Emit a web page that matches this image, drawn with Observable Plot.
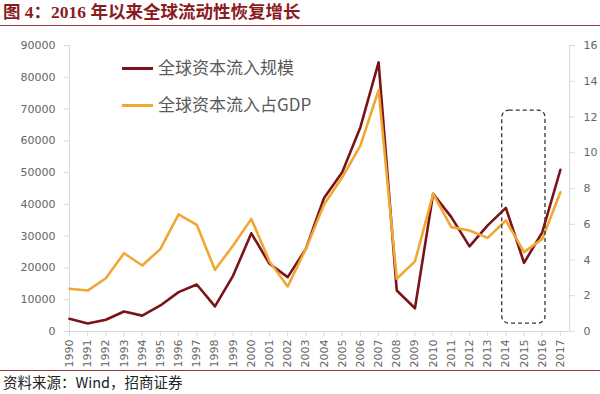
<!DOCTYPE html>
<html><head><meta charset="utf-8">
<script src="https://cdn.jsdelivr.net/npm/d3@7"></script>
<script src="https://cdn.jsdelivr.net/npm/@observablehq/plot@0.6"></script>
<style>
html,body{margin:0;padding:0;background:#fff}
#wrap{position:relative;width:600px;height:394px;overflow:hidden;background:#fff}
#title{position:absolute;left:3px;top:2px;font-family:"Liberation Serif","Noto Sans CJK SC",serif;font-weight:bold;font-size:17.5px;color:#8a1c1f;white-space:nowrap;line-height:20px}
#rule1{position:absolute;left:0;top:25px;width:600px;height:1px;background:#9a3a3a}
#chart{position:absolute;left:0;top:28px}
#rule2{position:absolute;left:0;top:370px;width:600px;height:1px;background:#9a3a3a}
#caption{position:absolute;left:3px;top:373px;font-family:"Noto Sans CJK SC",sans-serif;font-size:14.5px;color:#222;line-height:18px;white-space:nowrap}
.leg{position:absolute;font-family:"Noto Sans CJK SC",sans-serif;font-size:17px;color:#595959;white-space:nowrap;line-height:20px}
.sw{position:absolute;height:3px;width:31px}
</style></head>
<body><div id="wrap">
<div id="title">图 4：2016 年以来全球流动性恢复增长</div>
<div id="rule1"></div>
<div id="chart"></div>
<div id="rule2"></div>
<div id="caption">资料来源：Wind，招商证券</div>
</div>
<script>
const years = [1990,1991,1992,1993,1994,1995,1996,1997,1998,1999,2000,2001,2002,2003,2004,2005,2006,2007,2008,2009,2010,2011,2012,2013,2014,2015,2016,2017];
const flows = [4000,2500,3700,6300,5000,8200,12400,14800,7900,17600,30900,21300,17100,26000,42000,50100,64300,84700,12900,7300,43300,36000,26800,33400,38900,21600,31200,50900];
const gdpShare = [2.39,2.29,2.98,4.38,3.69,4.62,6.55,5.97,3.45,4.81,6.30,3.92,2.52,4.62,7.1,8.63,10.4,13.5,2.95,3.92,7.70,5.84,5.65,5.24,6.21,4.44,5.18,7.79];
const leftTicks = [0,10000,20000,30000,40000,50000,60000,70000,80000,90000];
const rightTicks = [0,2,4,6,8,10,12,14,16];
const seriesNames = ["全球资本流入规模","全球资本流入占GDP"];
const seriesColors = ["#7a1419","#f1a733"];
const box = [{x1:2013.8, x2:2016.18, y1:2500, y2:69500}];

const K = 90000/16;
const data = years.map((y,i)=>({year:y, flow:flows[i], gdp:gdpShare[i]}));

const chart = Plot.plot({
  width:600, height:342,
  marginTop:17, marginBottom:39, marginLeft:69, marginRight:31,
  x:{type:"linear", domain:[1990,2017.5]},
  y:{domain:[0,90000]},
  style:{fontFamily:"DejaVu Sans, sans-serif", fontSize:"11px", color:"#666", background:"white", overflow:"visible"},
  marks:[
    Plot.ruleY([0],{stroke:"#d9d9d9"}),
    Plot.ruleX([1990],{stroke:"#d9d9d9"}),
    Plot.ruleX([2017.5],{stroke:"#d9d9d9"}),
    Plot.axisY(leftTicks,{anchor:"left", tickSize:5, tickPadding:9, stroke:"#d9d9d9", tickFormat:d=>String(d)}),
    Plot.axisY(rightTicks.map(v=>v*K),{anchor:"right", tickSize:5, tickPadding:9, stroke:"#d9d9d9", tickFormat:d=>String(Math.round(d/K))}),
    Plot.axisX(years,{anchor:"bottom", tickSize:5, tickPadding:3, tickRotate:-90, stroke:"#d9d9d9", tickFormat:d=>String(d)}),
    Plot.line(data,{x:"year", y:"flow", stroke:seriesColors[0], strokeWidth:2.6}),
    Plot.line(data,{x:"year", y:d=>d.gdp*K, stroke:seriesColors[1], strokeWidth:2.6}),
    Plot.rect(box,{x1:"x1", x2:"x2", y1:"y1", y2:"y2", rx:7, fill:"none", stroke:"#333", strokeWidth:1.3, strokeDasharray:"4,3"})
  ]
});
document.getElementById("chart").appendChild(chart);

const wrap = document.getElementById("wrap");
seriesNames.forEach((name,i)=>{
  const cy = 68 + i*37;
  const sw = document.createElement("div");
  sw.className="sw"; sw.style.left="122px"; sw.style.top=(cy-1.5)+"px"; sw.style.background=seriesColors[i];
  wrap.appendChild(sw);
  const t = document.createElement("div");
  t.className="leg"; t.textContent=name; t.style.left="158px"; t.style.top=(cy-11)+"px";
  wrap.appendChild(t);
});
</script>
</body></html>
